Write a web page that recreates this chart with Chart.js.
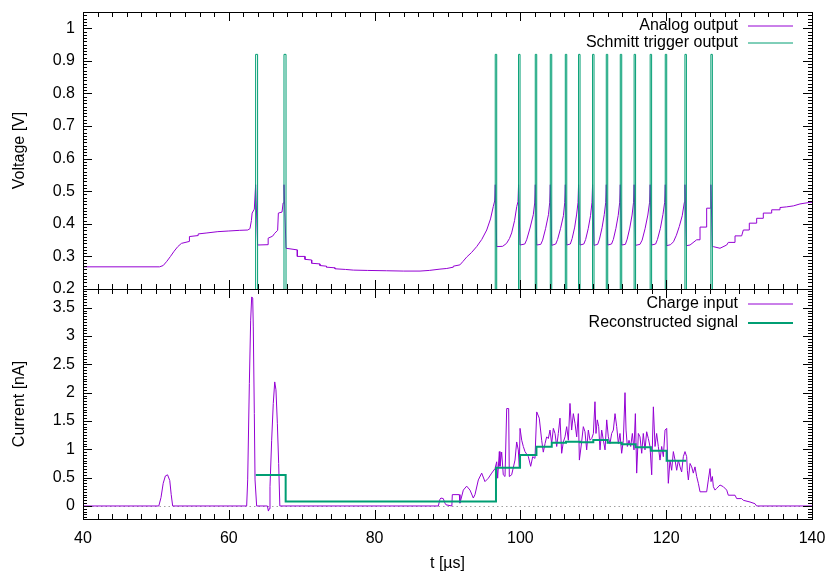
<!DOCTYPE html>
<html>
<head>
<meta charset="utf-8">
<script src="https://cdn.jsdelivr.net/npm/chart.js@4.4.1/dist/chart.umd.min.js"></script>
<style>
html, body { margin: 0; padding: 0; background: #fff; }
#wrap { position: relative; width: 830px; height: 581px; overflow: hidden; background: #fff; }
canvas { position: absolute; left: 0; }
#top { top: 0; }
#bot { top: 280px; }
</style>
</head>
<body>
<div id="wrap">
  <canvas id="top" width="830" height="300"></canvas>
  <canvas id="bot" width="830" height="301"></canvas>
</div>
<script>
// ---------------- DATA ----------------
const timeTicks = [40, 60, 80, 100, 120, 140];
const voltTicks = [0.2, 0.3, 0.4, 0.5, 0.6, 0.7, 0.8, 0.9, 1];
const currentTicks = [0, 0.5, 1, 1.5, 2, 2.5, 3, 3.5];
const topLabels = ['Analog output', 'Schmitt trigger output'];
const bottomLabels = ['Charge input', 'Reconstructed signal'];
const titleVoltage = 'Voltage [V]';
const titleCurrent = 'Current [nA]';
const titleTime = 't [µs]';

// Analog output (t in µs, V in volts)
const analogT = [
  40, 50.5, 51.0, 51.5, 52.0, 52.5, 53.0, 53.5, 54.6, 54.6, 55.8, 55.8, 57.0, 58.5, 60.0, 61.5, 62.6, 62.9, 63.1, 63.2, 63.5, 63.68,
  63.95, 65.4, 65.4, 66.0, 66.3, 66.7, 66.8, 67.3, 67.45, 67.57,
  67.85, 69.4, 69.4, 70.45, 70.45, 71.37, 71.37, 72.5, 72.5, 73.4, 73.4, 74.57, 74.57, 76.0, 77.08, 79.0, 81.66, 84.0, 86.23,
  87.5, 88.97, 89.9, 90.8, 90.8, 91.7, 92.1, 92.63, 93.3, 94.0, 94.7, 95.38, 95.9, 96.28, 96.47, 96.55,
  96.75, 97.57, 98.1, 98.5, 98.8, 99.2, 99.5, 99.67, 99.75,
  99.95, 100.6, 100.86, 101.32, 101.77, 101.96, 102.04,
  102.24, 102.8, 103.05, 103.45, 103.85, 104.02, 104.1,
  104.3, 104.85, 105.1, 105.5, 105.9, 106.08, 106.16,
  106.36, 106.85, 107.1, 107.45, 107.72, 107.9, 107.98,
  108.18, 108.7, 108.95, 109.3, 109.62, 109.82, 109.9,
  110.1, 110.6, 110.85, 111.2, 111.5, 111.7, 111.78,
  111.98, 112.5, 112.75, 113.1, 113.42, 113.62, 113.7,
  113.9, 114.4, 114.65, 115.0, 115.32, 115.52, 115.6,
  115.8, 116.4, 116.7, 117.1, 117.48, 117.72, 117.8,
  118.0, 118.55, 118.8, 119.2, 119.55, 119.79, 119.87,
  120.07, 120.6, 121.0, 121.4, 121.8, 122.2, 122.49, 122.57,
  122.77, 123.27, 124.18, 124.64, 124.64, 125.55, 125.55, 126.05, 126.13,
  126.33, 126.46, 127.38, 128.3, 128.52, 129.44, 129.44, 130.35, 130.58, 131.4, 131.4, 132.41, 132.41, 133.32, 133.32, 134.47, 134.47, 135.61, 135.61, 136.5, 137.44, 138.35, 139.73, 140
];
const analogV = [
  0.268, 0.268, 0.272, 0.285, 0.300, 0.316, 0.330, 0.340, 0.346, 0.361, 0.364, 0.369, 0.372, 0.376, 0.378, 0.380, 0.381, 0.385, 0.410, 0.433, 0.445, 0.52,
  0.335, 0.336, 0.356, 0.362, 0.371, 0.380, 0.433, 0.436, 0.464, 0.52,
  0.325, 0.320, 0.300, 0.300, 0.291, 0.289, 0.279, 0.277, 0.272, 0.270, 0.267, 0.265, 0.262, 0.260, 0.258, 0.257, 0.256, 0.255, 0.255,
  0.257, 0.261, 0.263, 0.267, 0.270, 0.274, 0.284, 0.298, 0.312, 0.330, 0.352, 0.381, 0.415, 0.453, 0.470, 0.52,
  0.330, 0.331, 0.340, 0.355, 0.372, 0.410, 0.453, 0.468, 0.52,
  0.335, 0.338, 0.351, 0.387, 0.428, 0.464, 0.52,
  0.335, 0.337, 0.350, 0.385, 0.428, 0.466, 0.52,
  0.334, 0.338, 0.352, 0.385, 0.425, 0.465, 0.52,
  0.335, 0.338, 0.355, 0.390, 0.430, 0.465, 0.52,
  0.335, 0.338, 0.352, 0.385, 0.425, 0.466, 0.52,
  0.334, 0.337, 0.353, 0.388, 0.428, 0.465, 0.52,
  0.335, 0.338, 0.352, 0.386, 0.426, 0.466, 0.52,
  0.335, 0.337, 0.353, 0.387, 0.427, 0.466, 0.52,
  0.334, 0.337, 0.350, 0.385, 0.427, 0.466, 0.52,
  0.335, 0.338, 0.352, 0.386, 0.428, 0.466, 0.52,
  0.333, 0.336, 0.345, 0.365, 0.392, 0.425, 0.466, 0.52,
  0.333, 0.335, 0.351, 0.351, 0.390, 0.390, 0.448, 0.448, 0.52,
  0.330, 0.330, 0.325, 0.335, 0.343, 0.343, 0.363, 0.363, 0.381, 0.381, 0.402, 0.402, 0.417, 0.417, 0.433, 0.433, 0.443, 0.443, 0.450, 0.452, 0.455, 0.461, 0.466, 0.466
];

// Schmitt trigger output: level changes (time of change, new level)
const schmittT = [40, 63.68, 63.95, 67.57, 67.85, 96.55, 96.75, 99.75, 99.95, 102.04, 102.24, 104.1, 104.3,
  106.16, 106.36, 107.98, 108.18, 109.9, 110.1, 111.78, 111.98, 113.7, 113.9, 115.6, 115.8,
  117.8, 118.0, 119.87, 120.07, 122.57, 122.77, 126.13, 126.33, 140];
const schmittV = [0, 0.92, 0, 0.92, 0, 0.92, 0, 0.92, 0, 0.92, 0, 0.92, 0,
  0.92, 0, 0.92, 0, 0.92, 0, 0.92, 0, 0.92, 0, 0.92, 0,
  0.92, 0, 0.92, 0, 0.92, 0, 0.92, 0, 0];

// Charge input (t in µs, I in nA)
const chargeT = [
  40, 50.4, 50.7, 51.0, 51.3, 51.6, 51.9, 52.1, 52.3,
  62.45, 62.59, 62.82, 63.0, 63.14, 63.28, 63.36, 63.5, 63.6, 63.82,
  65.3, 65.43, 65.55, 65.65, 65.88, 66.1, 66.3, 66.47, 66.66, 66.84, 67.0,
  88.74, 88.97, 89.1, 89.42, 89.65, 89.8, 90.6, 90.66, 91.62, 91.71, 92.17,
  92.63, 93.09, 93.54, 93.77, 94.23, 94.69, 95.14, 95.6, 96.06, 96.52,
  96.75, 96.88, 97.11, 97.2, 97.43, 97.65, 97.89, 98.12, 98.39, 98.48,
  98.8, 99.26, 99.49, 99.71, 99.85, 99.95, 100.18, 100.4, 100.63, 101.09,
  101.41, 101.69, 102.0, 102.24, 102.59, 102.92, 103.14, 103.38, 103.6, 103.83,
  104.06, 104.29, 104.52, 104.75, 104.98, 105.2, 105.43, 105.66, 105.89, 106.12,
  106.35, 106.58, 106.8, 107.03, 107.26, 107.49, 107.72, 107.95, 108.09, 108.4,
  108.63, 108.86, 109.09, 109.32, 109.55, 109.78, 110.01, 110.23, 110.37, 110.55,
  110.74, 110.92, 111.15, 111.38, 111.61, 111.84, 112.06, 112.29, 112.52, 112.75,
  112.98, 113.21, 113.44, 113.66, 113.89, 114.12, 114.35, 114.49, 114.67, 114.9,
  115.13, 115.36, 115.58, 115.77, 115.95, 116.18, 116.41, 116.64, 116.86, 117.09,
  117.32, 117.55, 117.78, 118.01, 118.24, 118.47, 118.69, 118.92, 119.15, 119.38,
  119.61, 119.84, 120.07, 120.29, 120.52, 120.75, 120.98, 121.21, 121.44, 121.67,
  121.9, 122.12, 122.35, 122.58, 122.81, 122.9, 123.04, 123.27, 123.5, 123.72,
  123.95, 124.18, 124.41, 124.64, 125.55, 125.78, 126.01, 126.15, 126.33, 126.47,
  126.7, 126.92, 127.38, 127.84, 128.3, 128.52, 129.44, 129.67, 130.35, 130.58,
  131.5, 132.18, 132.4, 140
];
const chargeI = [
  0, 0, 0.15, 0.4, 0.53, 0.55, 0.45, 0.2, 0,
  0, 0.46, 2.16, 3.28, 3.69, 3.67, 3.16, 1.63, 0.46, 0,
  0, -0.09, -0.05, 0.34, 1.16, 1.81, 2.19, 2.05, 1.46, 0.75, 0,
  0, 0.12, 0.14, 0.13, 0.05, 0.02, 0, 0.2, 0.2, 0.05, 0.28,
  0.35, 0.28, 0.14, 0.2, 0.46, 0.58, 0.43, 0.49, 0.58, 0.66,
  0.78, 0.49, 0.96, 0.7, 0.95, 0.55, 0.52, 1.72, 1.72, 0.52,
  0.55, 0.81, 1.13, 0.99, 0.69, 1.37, 1.16, 1.05, 0.96, 0.87,
  0.7, 0.87, 0.84, 1.66, 1.55, 1.16, 0.95, 1.10, 1.22, 1.19,
  1.34, 1.10, 1.37, 1.28, 1.05, 1.28, 1.55, 0.93, 1.13, 1.22,
  1.40, 1.16, 1.81, 1.34, 1.63, 1.46, 1.22, 1.63, 0.81, 1.13,
  1.40, 1.31, 0.99, 1.34, 1.16, 1.19, 1.28, 1.84, 1.28, 1.52,
  1.40, 0.99, 1.34, 1.16, 0.99, 1.52, 1.22, 1.10, 1.28, 1.34,
  1.63, 1.40, 1.10, 1.28, 0.93, 1.16, 2.0, 1.34, 1.05, 1.16,
  1.05, 1.28, 0.99, 1.63, 0.58, 1.28, 1.22, 0.93, 1.28, 0.99,
  1.31, 1.19, 1.05, 0.55, 1.75, 1.05, 1.28, 1.05, 0.81, 1.05,
  0.87, 1.34, 1.37, 0.40, 0.81, 0.63, 0.96, 0.81, 0.63, 0.81,
  0.69, 0.60, 0.87, 0.96, 0.87, 0.63, 0.46, 0.75, 0.69, 0.58,
  0.69, 0.52, 0.40, 0.25, 0.25, 0.46, 0.66, 0.43, 0.52, 0.34,
  0.28, 0.31, 0.37, 0.34, 0.28, 0.19, 0.19, 0.13, 0.13, 0.10,
  0.07, 0.04, 0, 0
];

// Reconstructed signal: level changes (time of change, new level)
const reconT = [63.7, 67.8, 96.65, 99.95, 102.2, 104.3, 106.26, 108.17, 110.0, 111.97, 113.9, 115.8, 117.9, 120.06, 122.75];
const reconI = [0.547, 0.08, 0.675, 0.90, 1.046, 1.117, 1.135, 1.123, 1.164, 1.117, 1.088, 1.035, 0.976, 0.80, 0.80];

// ---------------- RENDERING ----------------
const FONT = { family: '"Liberation Sans", Arial, Helvetica, sans-serif', size: 16 };
const FONT_CSS = '16px "Liberation Sans", Arial, Helvetica, sans-serif';
const PURPLE = '#9400d3';
const GREEN = '#009e73';

function pts(xs, ys) { return xs.map((x, i) => ({ x: x, y: ys[i] })); }

const gpFrame = {
  id: 'gpFrame',
  beforeDatasetsDraw(chart, args, o) {
    if (!o.zeroLine) return;
    const { ctx, chartArea: a } = chart;
    const y = Math.round(chart.scales.y.getPixelForValue(0)) + 0.5;
    ctx.save();
    ctx.strokeStyle = '#a0a0a0';
    ctx.lineWidth = 1;
    ctx.setLineDash([1.5, 3]);
    ctx.beginPath();
    ctx.moveTo(a.left, y);
    ctx.lineTo(a.right, y);
    ctx.stroke();
    ctx.restore();
  },
  afterDatasetsDraw(chart, args, o) {
    const { ctx, chartArea: a } = chart;
    const xs = chart.scales.x, ys = chart.scales.y;
    ctx.save();
    ctx.strokeStyle = '#000';
    ctx.lineWidth = 1;
    ctx.beginPath();
    const nx = Math.round((xs.max - xs.min) / o.xMinor);
    for (let i = 0; i <= nx; i++) {
      const v = xs.min + i * o.xMinor;
      const major = o.xMajor.some(m => Math.abs(m - v) < 1e-6);
      const L = major ? 9 : 5;
      const px = Math.round(xs.getPixelForValue(v)) + 0.5;
      ctx.moveTo(px, a.top); ctx.lineTo(px, a.top + L);
      ctx.moveTo(px, a.bottom); ctx.lineTo(px, a.bottom - L);
    }
    const start = Math.ceil(ys.min / o.yMinor - 1e-6);
    const end = Math.floor(ys.max / o.yMinor + 1e-6);
    for (let i = start; i <= end; i++) {
      const v = i * o.yMinor;
      const major = o.yMajor.some(m => Math.abs(m - v) < 1e-6);
      const L = major ? 9 : 4;
      const py = Math.round(ys.getPixelForValue(v)) + 0.5;
      ctx.moveTo(a.left, py); ctx.lineTo(a.left + L, py);
      ctx.moveTo(a.right, py); ctx.lineTo(a.right - L, py);
    }
    ctx.stroke();
    ctx.strokeRect(Math.round(a.left) + 0.5, Math.round(a.top) + 0.5,
      Math.round(a.right) - Math.round(a.left), Math.round(a.bottom) - Math.round(a.top));
    ctx.restore();
  }
};

const gpLegend = {
  id: 'gpLegend',
  afterDatasetsDraw(chart, args, o) {
    const { ctx, chartArea: a } = chart;
    ctx.save();
    ctx.font = FONT_CSS;
    ctx.textAlign = 'right';
    ctx.textBaseline = 'middle';
    ctx.fillStyle = '#000';
    o.labels.forEach((lab, i) => {
      const ds = chart.data.datasets.find(d => d.label === lab);
      const y = Math.round(a.top + o.rowY0 + i * o.rowGap);
      ctx.fillText(lab, a.right - 74, y);
      ctx.strokeStyle = ds.borderColor;
      ctx.lineWidth = ds.borderWidth;
      ctx.beginPath();
      ctx.moveTo(a.right - 64, y);
      ctx.lineTo(a.right - 19, y);
      ctx.stroke();
    });
    ctx.restore();
  }
};

function yScale(min, max, tickList, title) {
  return {
    type: 'linear', min: min, max: max,
    afterBuildTicks: s => { s.ticks = tickList.map(v => ({ value: v })); },
    afterFit: s => { s.width = 83; s.paddingTop = 0; s.paddingBottom = 0; },
    ticks: { callback: v => String(v), font: FONT, color: '#000', padding: 8, autoSkip: false },
    grid: { display: false, drawTicks: false },
    border: { display: false },
    title: { display: true, text: title, font: FONT, color: '#000', padding: { top: 10, bottom: 0 } }
  };
}

const common = {
  responsive: false,
  animation: false,
  events: [],
  elements: { point: { radius: 0 }, line: { tension: 0, fill: false } }
};

new Chart(document.getElementById('top'), {
  type: 'line',
  data: {
    datasets: [
      { label: topLabels[0], data: pts(analogT, analogV), borderColor: PURPLE, borderWidth: 1, order: 2 },
      { label: topLabels[1], data: pts(schmittT, schmittV), borderColor: GREEN, borderWidth: 1, stepped: true, order: 1 }
    ]
  },
  options: Object.assign({}, common, {
    layout: { padding: { left: 0, right: 18, top: 12, bottom: 11 } },
    scales: {
      x: { type: 'linear', min: 40, max: 140, display: false },
      y: yScale(0.2, 1.05, voltTicks, titleVoltage)
    },
    plugins: {
      legend: { display: false },
      tooltip: { enabled: false },
      gpFrame: { xMinor: 2, xMajor: timeTicks, yMinor: 0.01, yMajor: voltTicks },
      gpLegend: { labels: topLabels, rowY0: 14, rowGap: 17 }
    }
  }),
  plugins: [gpFrame, gpLegend]
});

new Chart(document.getElementById('bot'), {
  type: 'line',
  data: {
    datasets: [
      { label: bottomLabels[0], data: pts(chargeT, chargeI), borderColor: PURPLE, borderWidth: 1, order: 2 },
      { label: bottomLabels[1], data: pts(reconT, reconI), borderColor: GREEN, borderWidth: 2, stepped: true, order: 1 }
    ]
  },
  options: Object.assign({}, common, {
    layout: { padding: { left: 0, right: 18, top: 9, bottom: 0 } },
    scales: {
      x: {
        type: 'linear', min: 40, max: 140,
        afterBuildTicks: s => { s.ticks = timeTicks.map(v => ({ value: v })); },
        afterFit: s => { s.height = 62; s.paddingLeft = 0; s.paddingRight = 0; },
        ticks: { callback: v => String(v), font: FONT, color: '#000', padding: 10, maxRotation: 0, autoSkip: false },
        grid: { display: false, drawTicks: false },
        border: { display: false },
        title: { display: true, text: titleTime, font: FONT, color: '#000', padding: { top: 0, bottom: 8 } }
      },
      y: yScale(-0.23, 3.83, currentTicks, titleCurrent)
    },
    plugins: {
      legend: { display: false },
      tooltip: { enabled: false },
      gpFrame: { xMinor: 2, xMajor: timeTicks, yMinor: 0.05, yMajor: currentTicks, zeroLine: true },
      gpLegend: { labels: bottomLabels, rowY0: 15, rowGap: 19 }
    }
  }),
  plugins: [gpFrame, gpLegend]
});
</script>
</body>
</html>
